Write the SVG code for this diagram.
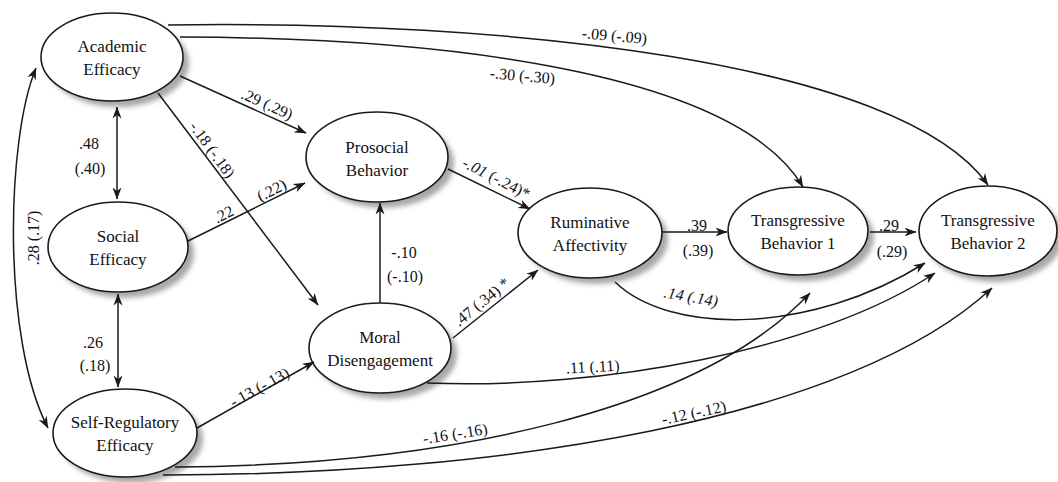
<svg xmlns="http://www.w3.org/2000/svg" width="1058" height="482" viewBox="0 0 1058 482">
<style>
.node{fill:#fff;stroke:#1a1a1a;stroke-width:1.6}
.sh{fill:#a8a8a8;filter:url(#blur)}
text{font-family:Liberation Serif, Tinos, Noto Serif, DejaVu Serif, FreeSerif, Times New Roman, Times, serif}
.nt{font-size:17px;fill:#111;text-anchor:middle}
.el{font-size:16px;fill:#111;text-anchor:middle}
.c{fill:none;stroke:#1a1a1a;stroke-width:1.5;marker-end:url(#ah)}
.d{marker-start:url(#ah)}
</style>
<defs>
<filter id="blur" x="-20%" y="-20%" width="140%" height="140%"><feGaussianBlur stdDeviation="2.5"/></filter>
<marker id="ah" viewBox="0 0 12 10" refX="11.5" refY="5" markerWidth="12" markerHeight="10" markerUnits="userSpaceOnUse" orient="auto-start-reverse"><path d="M0,0.5 L12,5 L0,9.5 L3.5,5 Z" fill="#1a1a1a"/></marker>
</defs>
<rect width="1058" height="482" fill="#fff"/>
<g id="n-academic">
<ellipse class="sh" cx="118" cy="63" rx="71" ry="44"/>
<ellipse class="node" cx="112" cy="57" rx="71" ry="44"/>
<text class="nt" x="112" y="52">Academic</text>
<text class="nt" x="112" y="75">Efficacy</text>
</g>
<g id="n-social">
<ellipse class="sh" cx="124" cy="253" rx="70" ry="45"/>
<ellipse class="node" cx="118" cy="247" rx="70" ry="45"/>
<text class="nt" x="118" y="242">Social</text>
<text class="nt" x="118" y="265">Efficacy</text>
</g>
<g id="n-selfreg">
<ellipse class="sh" cx="131" cy="439" rx="72" ry="44"/>
<ellipse class="node" cx="125" cy="433" rx="72" ry="44"/>
<text class="nt" x="125" y="428">Self-Regulatory</text>
<text class="nt" x="125" y="451">Efficacy</text>
</g>
<g id="n-prosocial">
<ellipse class="sh" cx="383" cy="163" rx="71" ry="45"/>
<ellipse class="node" cx="377" cy="157" rx="71" ry="45"/>
<text class="nt" x="377" y="153">Prosocial</text>
<text class="nt" x="377" y="176">Behavior</text>
</g>
<g id="n-moral">
<ellipse class="sh" cx="386" cy="354" rx="71" ry="45"/>
<ellipse class="node" cx="380" cy="348" rx="71" ry="45"/>
<text class="nt" x="380" y="343">Moral</text>
<text class="nt" x="380" y="366">Disengagement</text>
</g>
<g id="n-ruminative">
<ellipse class="sh" cx="596" cy="239" rx="72" ry="45"/>
<ellipse class="node" cx="590" cy="233" rx="72" ry="45"/>
<text class="nt" x="590" y="228">Ruminative</text>
<text class="nt" x="590" y="251">Affectivity</text>
</g>
<g id="n-tb1">
<ellipse class="sh" cx="804" cy="237" rx="70" ry="44"/>
<ellipse class="node" cx="798" cy="231" rx="70" ry="44"/>
<text class="nt" x="798" y="226">Transgressive</text>
<text class="nt" x="798" y="249">Behavior 1</text>
</g>
<g id="n-tb2">
<ellipse class="sh" cx="994" cy="237" rx="69" ry="45"/>
<ellipse class="node" cx="988" cy="231" rx="69" ry="45"/>
<text class="nt" x="988" y="226">Transgressive</text>
<text class="nt" x="988" y="249">Behavior 2</text>
</g>

<g id="connectors">
<path class="c d" d="M117,107 L117,199"/>
<path class="c d" d="M118,294 L118,387"/>
<path class="c d" d="M36,68 C6,140 2,340 48,428"/>
<path class="c" d="M180,76 L306,133"/>
<path class="c" d="M158,93 L318,305"/>
<path class="c" d="M188,241 L305,183"/>
<path class="c" d="M197,428 L314,362"/>
<path class="c" d="M380,303 L380,203"/>
<path class="c" d="M448,169 L530,209"/>
<path class="c" d="M453,338 L538,270"/>
<path class="c" d="M662,232 L727,232"/>
<path class="c" d="M870,232 L916,232"/>
<path class="c" d="M180,37 C480,38 740,80 803,187"/>
<path class="c" d="M168,25 C500,20 900,60 988,185"/>
<path class="c" d="M615,282 C670,335 810,335 925,263"/>
<path class="c" d="M427,383 C600,390 820,350 935,273"/>
<path class="c" d="M175,467 C450,465 700,410 810,293"/>
<path class="c" d="M163,475 C500,475 850,420 992,288"/>
</g>

<g id="labels">
<text class="el" x="89" y="149">.48</text>
<text class="el" x="90" y="174">(.40)</text>
<text class="el" x="93" y="348">.26</text>
<text class="el" x="95" y="371">(.18)</text>
<text class="el" transform="translate(39,238) rotate(-90)">.28 (.17)</text>
<text class="el" transform="translate(265,109) rotate(24)">.29 (.29)</text>
<text class="el" transform="translate(208,153) rotate(54)">-.18 (-.18)</text>
<text class="el" transform="translate(226,219) rotate(-26)">.22</text>
<text class="el" transform="translate(274,195) rotate(-26)">(.22)</text>
<text class="el" transform="translate(262,392) rotate(-29)">-.13 (-.13)</text>
<text class="el" x="404" y="258">-.10</text>
<text class="el" x="405" y="282">(-.10)</text>
<text class="el" transform="translate(494,183) rotate(27)"><tspan font-style="italic">-.01</tspan> (-.24)*</text>
<text class="el" transform="translate(485,306) rotate(-39)">.47 (.34) *</text>
<text class="el" x="697" y="231">.39</text>
<text class="el" x="698" y="256">(.39)</text>
<text class="el" x="889" y="231">.29</text>
<text class="el" x="892" y="257">(.29)</text>
<text class="el" transform="translate(614,41) rotate(5)">-.09 (-.09)</text>
<text class="el" transform="translate(522,81) rotate(5)">-.30 (-.30)</text>
<text class="el" font-style="italic" transform="translate(690,302) rotate(10)">.14 (.14)</text>
<text class="el" transform="translate(593,372) rotate(-3)">.11 (.11)</text>
<text class="el" transform="translate(456,439) rotate(-9)">-.16  (-.16)</text>
<text class="el" transform="translate(695,418) rotate(-12)">-.12 (-.12)</text>
</g>
</svg>
